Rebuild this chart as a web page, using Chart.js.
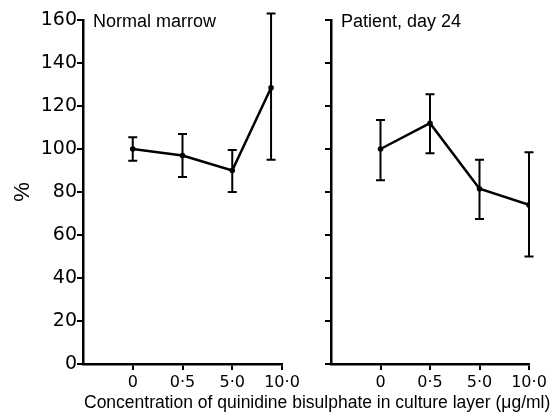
<!DOCTYPE html>
<html>
<head>
<meta charset="utf-8">
<script src="https://cdn.jsdelivr.net/npm/chart.js@4.4.1/dist/chart.umd.min.js"></script>
<style>
  html, body { margin: 0; padding: 0; background: #fff; }
  #wrap { position: relative; width: 552px; height: 412px; overflow: hidden; }
  canvas { position: absolute; left: 0; top: 0; }
  .lbl { position: absolute; font-family: "Liberation Sans", Arial, sans-serif; color: #000; white-space: nowrap; line-height: 18px; }
</style>
</head>
<body>
<div id="wrap">
  <canvas id="chartNormal" width="552" height="412"></canvas>
  <canvas id="chartPatient" width="552" height="412"></canvas>
  <div class="lbl" style="left:93px; top:12px; font-size:18px">Normal marrow</div>
  <div class="lbl" style="left:341px; top:12px; font-size:18px">Patient, day 24</div>
  <div class="lbl" style="left:84px; top:393px; font-size:17.5px">Concentration of quinidine bisulphate in culture layer (μg/ml)</div>
</div>
<script>
// concentrations (µg/ml) shown on both x axes
const concLabels = ['0', '0·5', '5·0', '10·0'];

// left panel: normal marrow (last point sits a little short of its tick in the original)
const normalX    = [0, 1, 2, 2.78];
const normalMean = [100, 97, 90, 128.5];
const normalLow  = [94.5, 87, 80, 95];
const normalHigh = [105.5, 107, 99.5, 163];

// right panel: patient, day 24
const patientX    = [0, 1, 2, 3];
const patientMean = [100, 112, 81.5, 74];
const patientLow  = [85.5, 98, 67.5, 50];
const patientHigh = [113.5, 125.5, 95, 98.5];

// vertical error bars with short caps, drawn through the chart scales
function errorBarPlugin(xs, low, high) {
  return {
    id: 'errorBars',
    afterDatasetsDraw(chart) {
      const { ctx } = chart;
      const x = chart.scales.x, y = chart.scales.y;
      ctx.save();
      ctx.strokeStyle = '#000';
      ctx.lineWidth = 2;
      low.forEach((lo, i) => {
        const px = x.getPixelForValue(xs[i]);
        const yLo = y.getPixelForValue(lo);
        const yHi = y.getPixelForValue(high[i]);
        ctx.beginPath();
        ctx.moveTo(px, yLo); ctx.lineTo(px, yHi);
        ctx.moveTo(px - 4.5, yLo); ctx.lineTo(px + 4.5, yLo);
        ctx.moveTo(px - 4.5, yHi); ctx.lineTo(px + 4.5, yHi);
        ctx.stroke();
      });
      ctx.restore();
    }
  };
}

function makePanel(canvasId, xs, mean, low, high, yWidth, padRight, showLabels) {
  const axisGrid = { drawOnChartArea: false, drawTicks: true, tickLength: 6, color: '#000', lineWidth: 2 };
  const axisBorder = { color: '#000', width: 2.5 };
  return new Chart(document.getElementById(canvasId), {
    type: 'line',
    data: {
      datasets: [{
        data: xs.map((v, i) => ({ x: v, y: mean[i] })),
        borderColor: '#000',
        borderWidth: 2.5,
        pointRadius: 2.8,
        pointBackgroundColor: '#000',
        pointBorderWidth: 0,
        tension: 0,
        fill: false
      }]
    },
    options: {
      responsive: false,
      animation: false,
      devicePixelRatio: 1,
      layout: { padding: { left: 0, top: 20, right: padRight, bottom: 0 } },
      plugins: { legend: { display: false }, tooltip: { enabled: false } },
      scales: {
        x: {
          type: 'linear', min: -1, max: 3,
          afterBuildTicks: s => { s.ticks = s.ticks.filter(t => t.value >= 0); },
          afterFit: s => { s.height = 48; },
          ticks: {
            stepSize: 1, padding: 3, maxRotation: 0, autoSkip: false, color: '#000',
            font: { family: 'DejaVu Sans', size: 16 },
            callback: v => concLabels[v]
          },
          grid: axisGrid,
          border: axisBorder
        },
        y: {
          min: 0, max: 160,
          afterFit: s => { s.width = yWidth; },
          ticks: {
            stepSize: 20, display: showLabels, padding: 0, color: '#000',
            font: { family: 'DejaVu Sans', size: 19 }
          },
          grid: axisGrid,
          border: axisBorder,
          title: {
            display: showLabels, text: '%', color: '#000',
            font: { family: 'Liberation Sans', size: 22 },
            padding: { top: 10, bottom: 0 }
          }
        }
      }
    },
    plugins: [errorBarPlugin(xs, low, high)]
  });
}

makePanel('chartNormal', normalX, normalMean, normalLow, normalHigh, 83, 270, true);
makePanel('chartPatient', patientX, patientMean, patientLow, patientHigh, 331, 23, false);
</script>
</body>
</html>
